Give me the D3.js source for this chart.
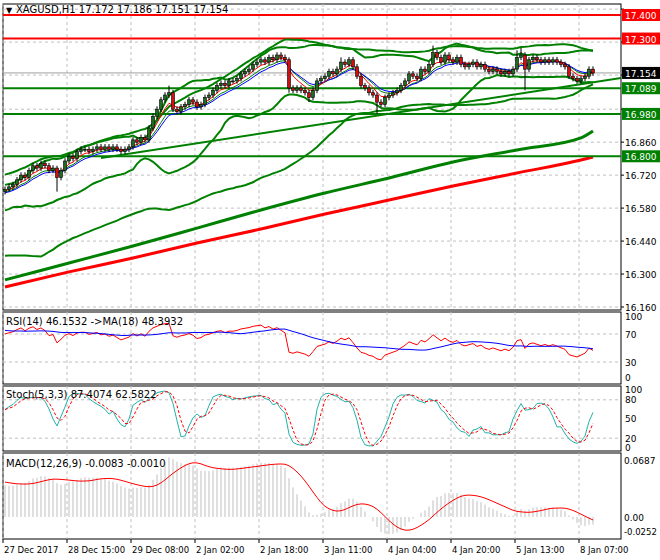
<!DOCTYPE html>
<html><head><meta charset="utf-8">
<script src="https://cdn.jsdelivr.net/npm/d3@7"></script>
<style>body{margin:0;background:#fff}svg{display:block;font-family:Tahoma,"DejaVu Sans",sans-serif}</style>
</head><body><svg id="c" width="660" height="560"></svg>
<script>
const history = [16.38,16.39,16.41,16.40,16.42,16.44,16.43,16.45,16.47,16.46,16.48,16.50,16.49,16.51,16.53,16.52,16.54,16.55,16.56,16.55,16.57,16.58,16.57,16.59,16.60,16.59,16.61,16.62,16.61,16.63,16.62,16.63,16.64,16.63,16.65,16.64,16.66,16.65,16.66,16.65];
const closes = [16.66,16.67,16.68,16.70,16.72,16.71,16.74,16.76,16.75,16.77,16.76,16.74,16.75,16.71,16.74,16.78,16.80,16.79,16.82,16.83,
16.83,16.82,16.83,16.84,16.83,16.84,16.83,16.84,16.83,16.82,16.83,16.84,16.87,16.86,16.88,16.87,16.92,16.97,17.00,17.04,
17.06,17.07,17.00,16.99,17.01,17.02,17.04,17.03,17.01,17.02,17.05,17.06,17.08,17.10,17.11,17.10,17.12,17.12,17.13,17.15,
17.16,17.17,17.19,17.20,17.21,17.20,17.22,17.21,17.23,17.22,17.21,17.09,17.08,17.09,17.08,17.07,17.05,17.08,17.12,17.13,
17.14,17.16,17.15,17.17,17.20,17.19,17.21,17.18,17.14,17.10,17.09,17.07,17.06,17.03,17.02,17.05,17.06,17.07,17.08,17.10,
17.12,17.15,17.14,17.13,17.17,17.16,17.19,17.24,17.22,17.20,17.23,17.21,17.20,17.22,17.19,17.18,17.19,17.20,17.18,17.19,
17.17,17.16,17.17,17.16,17.15,17.16,17.15,17.17,17.22,17.23,17.17,17.21,17.22,17.21,17.20,17.21,17.20,17.21,17.20,17.19,
17.18,17.14,17.13,17.12,17.13,17.14,17.17,17.154];
const firstOpen = 16.65;
const wickHigh = {13:16.76,41:17.10,71:17.22,84:17.22,128:17.25,129:17.26,107:17.27};
const wickLow = {13:16.65,93:16.98,71:17.07,130:17.08,76:17.03};
const sma1Idx = [0,16,32,48,64,80,96,112,128,144,147];
const smaGreen = [16.275,16.347,16.419,16.495,16.572,16.644,16.708,16.776,16.827,16.878,16.907];
const smaRed = [16.245,16.309,16.368,16.432,16.491,16.555,16.614,16.674,16.729,16.784,16.797];
const priceTicks = [16.160,16.300,16.440,16.580,16.720,16.860,17.000,17.145,17.285,17.425];
const hLines = [{p:17.400,c:"#ff0000"},{p:17.300,c:"#ff0000"},{p:17.089,c:"#008000"},{p:16.980,c:"#008000"},{p:16.800,c:"#008000"}];
const timeLabels = ["27 Dec 2017","28 Dec 15:00","29 Dec 08:00","2 Jan 02:00","2 Jan 18:00","3 Jan 11:00","4 Jan 04:00","4 Jan 20:00","5 Jan 13:00","8 Jan 07:00"];
const timeLabelIdx = [0,16,32,48,64,80,96,112,128,144];
const trend = [{i:24,p:16.793},{i:154,p:17.132}];

const svg = d3.select("#c");
const L=3,R=621;
const x = d3.scaleLinear().domain([0,147]).range([5,593]);
const y = d3.scaleLinear().domain([16.16,17.40]).range([307,15]);
const yR = d3.scaleLinear().domain([0,100]).range([383,313]);
const yS = d3.scaleLinear().domain([0,100]).range([451,387]);
const yM = d3.scaleLinear().domain([0,0.0687]).range([517,460]);

const opens = closes.map((c,i)=>i?closes[i-1]:firstOpen);
const highs = closes.map((c,i)=>wickHigh[i]!==undefined?wickHigh[i]:Math.max(c,opens[i])+0.012);
const lows = closes.map((c,i)=>wickLow[i]!==undefined?wickLow[i]:Math.min(c,opens[i])-0.012);
const all = history.concat(closes), H=history.length;
function ema(arr,n){const k=2/(n+1);let o=[],e=arr[0];arr.forEach((v,i)=>{e=i?v*k+e*(1-k):v;o.push(e)});return o;}
function sma(arr,n){return arr.map((v,i)=>{const s=arr.slice(Math.max(0,i-n+1),i+1);return d3.mean(s)});}
function bb(n,d){return all.map((v,i)=>{const s=all.slice(Math.max(0,i-n+1),i+1);const m=d3.mean(s),sd=Math.sqrt(d3.mean(s,q=>(q-m)*(q-m)));return {m,u:m+d*sd,l:m-d*sd}}).slice(H);}

const panels=[[4,310],[312,384],[386,451],[453,539]];
panels.forEach(([a,b])=>svg.append("rect").attr("x",L).attr("y",a).attr("width",R-L).attr("height",b-a).attr("fill","none").attr("stroke","#000"));
const grid=svg.append("g").attr("stroke","#c0c0c0").attr("stroke-dasharray","3,3");
timeLabelIdx.forEach(i=>{const gx=x(i)-2;panels.forEach(([a,b])=>grid.append("line").attr("x1",gx).attr("x2",gx).attr("y1",a).attr("y2",b));});
priceTicks.forEach(p=>grid.append("line").attr("x1",L).attr("x2",R).attr("y1",y(p)).attr("y2",y(p)));
[70,30].forEach(v=>grid.append("line").attr("x1",L).attr("x2",R).attr("y1",yR(v)).attr("y2",yR(v)));
[80,20].forEach(v=>grid.append("line").attr("x1",L).attr("x2",R).attr("y1",yS(v)).attr("y2",yS(v)));

svg.append("clipPath").attr("id","cp").append("rect").attr("x",L).attr("y",4).attr("width",R-L).attr("height",306);
const main=svg.append("g").attr("clip-path","url(#cp)");
main.append("line").attr("x1",L).attr("x2",R).attr("y1",y(17.154)).attr("y2",y(17.154)).attr("stroke","#a0a0a0");
const line=(ys)=>d3.line().x((d,i)=>x(i)).y(ys);
const lineIdx=d3.line().x(d=>x(d[0])).y(d=>y(d[1])).curve(d3.curveMonotoneX);
main.append("path").attr("d",lineIdx(sma1Idx.map((v,k)=>[v,smaGreen[k]]))).attr("fill","none").attr("stroke","#008000").attr("stroke-width",3);
main.append("path").attr("d",lineIdx(sma1Idx.map((v,k)=>[v,smaRed[k]]))).attr("fill","none").attr("stroke","#ff0000").attr("stroke-width",3);
hLines.forEach(h=>main.append("line").attr("x1",L).attr("x2",R).attr("y1",y(h.p)).attr("y2",y(h.p)).attr("stroke",h.c).attr("stroke-width",2));
main.append("line").attr("x1",x(trend[0].i)).attr("x2",x(trend[1].i)).attr("y1",y(trend[0].p)).attr("y2",y(trend[1].p)).attr("stroke","#008000").attr("stroke-width",2);
[bb(50,2),bb(20,2)].forEach(b=>{["u","l"].forEach(k=>main.append("path").attr("d",line(d=>y(d[k]))(b)).attr("fill","none").attr("stroke","#008000").attr("stroke-width",2));});
[[8,"#008000"],[10,"#0000ff"],[5,"#ff0000"]].forEach(([n,c])=>main.append("path").attr("d",line(d=>y(d))(ema(all,n).slice(H))).attr("fill","none").attr("stroke",c).attr("stroke-width",1));
const cg=main.append("g");
closes.forEach((c,i)=>{const o=opens[i],cx=x(i);
 cg.append("line").attr("x1",cx).attr("x2",cx).attr("y1",y(highs[i])).attr("y2",y(lows[i])).attr("stroke","#000");
 const t=y(Math.max(o,c)),h=Math.max(1,Math.abs(y(o)-y(c)));
 cg.append("rect").attr("x",cx-1.5).attr("y",t).attr("width",3).attr("height",h).attr("fill",c>=o?"#1f6b1f":"#d01010").attr("stroke","#000").attr("stroke-width",0.6);});

let rsi=[],ag=0,al=0;
all.forEach((v,i)=>{if(!i){rsi.push(50);return;}const d=v-all[i-1],g=Math.max(d,0),l=Math.max(-d,0);
 if(i<=14){ag+=g/14;al+=l/14;}else{ag=(ag*13+g)/14;al=(al*13+l)/14;}rsi.push(al===0?100:100-100/(1+ag/al));});
const rsiMa=sma(rsi,18);
const lineR=(ys,arr)=>d3.line().x((d,i)=>x(i)).y(d=>ys(d))(arr);
svg.append("path").attr("d",lineR(yR,rsi.slice(H))).attr("fill","none").attr("stroke","#ff0000");
svg.append("path").attr("d",lineR(yR,rsiMa.slice(H))).attr("fill","none").attr("stroke","#0000ff");
const raw=closes.map((c,i)=>{const s=Math.max(0,i-4);const hh=d3.max(highs.slice(s,i+1)),ll=d3.min(lows.slice(s,i+1));return [c-ll,hh-ll]});
const K=raw.map((r,i)=>{const s=raw.slice(Math.max(0,i-2),i+1);const a=d3.sum(s,q=>q[0]),b=d3.sum(s,q=>q[1]);return b?100*a/b:50});
const D=sma(K,3);
svg.append("path").attr("d",lineR(yS,K)).attr("fill","none").attr("stroke","#20b2aa");
svg.append("path").attr("d",lineR(yS,D)).attr("fill","none").attr("stroke","#ff0000").attr("stroke-dasharray","3,2");
const e12=ema(all,12),e26=ema(all,26),macd=e12.map((v,i)=>v-e26[i]),sig=sma(macd,9);
const mg=svg.append("g");
macd.slice(H).forEach((v,i)=>mg.append("line").attr("x1",x(i)).attr("x2",x(i)).attr("y1",yM(0)).attr("y2",yM(v)).attr("stroke","#c0c0c0"));
svg.append("path").attr("d",lineR(yM,sig.slice(H))).attr("fill","none").attr("stroke","#ff0000");

const T=(tx,ty,s,o={})=>svg.append("text").attr("x",tx).attr("y",ty).text(s).attr("font-size",o.fs||9).attr("fill",o.fill||"#000").attr("text-anchor",o.a||"start");
T(6,13,"▼",{fs:8});T(16,13,"XAGUSD,H1  17.172 17.186 17.151 17.154",{fs:10});
T(6,325,"RSI(14) 46.1532  ->MA(18) 48.3932",{fs:10});
T(6,398,"Stoch(5,3,3) 87.4074 62.5822",{fs:10});
T(6,467,"MACD(12,26,9) -0.0083 -0.0010",{fs:10});
const boxed=hLines.map(h=>h.p).concat([17.154]);
priceTicks.forEach(p=>{svg.append("line").attr("x1",R).attr("x2",R+3).attr("y1",y(p)).attr("y2",y(p)).attr("stroke","#000");
 if(p<17.4 && !boxed.some(b=>Math.abs(y(b)-y(p))<12)) T(625,y(p)+4,p.toFixed(3));});
const box=(p,c,s)=>{svg.append("rect").attr("x",622).attr("y",y(p)-6).attr("width",38).attr("height",12).attr("fill",c);T(625,y(p)+4,s,{fill:"#fff"});};
hLines.forEach(h=>box(h.p,h.c,h.p.toFixed(3)));box(17.154,"#000","17.154");
[[100,320],[70,338],[30,366],[0,381]].forEach(([v,yy])=>T(625,yy,String(v)));
[[100,393],[80,403],[50,422],[20,442],[0,451]].forEach(([v,yy])=>T(625,yy,String(v)));
[["0.0687",yM(0.0687)+4],["0.00",yM(0)+4],["-0.0252",535]].forEach(([s,yy])=>T(624,yy,s,{fs:s.length>6?8.5:9}));
timeLabelIdx.forEach((i,k)=>{const gx=x(i)-2;svg.append("line").attr("x1",gx).attr("x2",gx).attr("y1",539).attr("y2",543).attr("stroke","#000");T(gx+1,553,timeLabels[k],{fs:8.5});});
</script></body></html>
